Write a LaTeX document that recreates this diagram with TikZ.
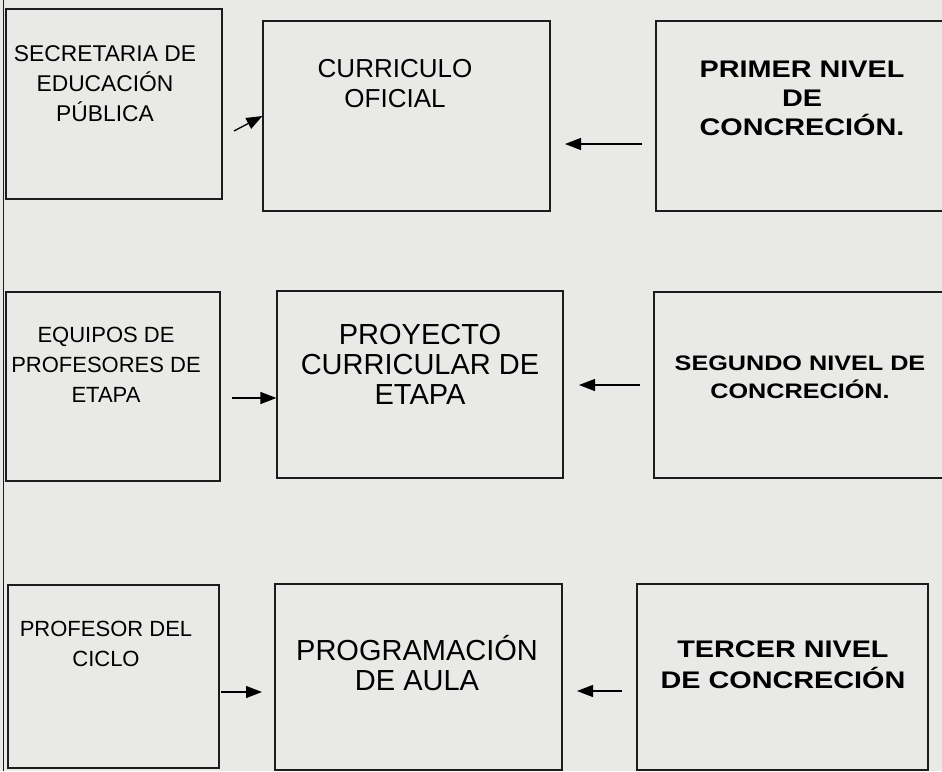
\documentclass[tikz,border=0pt]{standalone}
\usepackage{fontspec}
\setmainfont{Liberation Sans}
\newfontfamily\wideb{Liberation Sans Bold}[FakeStretch=1.2]
\usetikzlibrary{arrows.meta}
\definecolor{bg}{RGB}{233,234,231}
\definecolor{ink}{RGB}{28,28,28}
\begin{document}
\begin{tikzpicture}[x=1pt,y=-1pt,
  box/.style={draw=ink, line width=1.2pt, inner sep=0pt},
  lefttxt/.style={align=center, inner sep=0pt, font=\fontsize{#1}{30}\selectfont},
  midtxt/.style={align=center, inner sep=0pt, font=\fontsize{#1}{30}\selectfont},
  righttxt/.style 2 args={align=center, inner sep=0pt, font=\wideb\fontsize{#1}{#2}\selectfont},
  arr/.style={draw=black, line width=1.3pt, -{Triangle[length=16pt,width=12pt]}}]
\useasboundingbox (0,0) rectangle (942,771);
\fill[bg] (0,0) rectangle (942,771);
\clip (0,0) rectangle (942,771);
\draw[ink, line width=1.2pt] (3.5,0) -- (3.5,771);
% boxes
\node[box, minimum width=216pt, minimum height=190pt] (l1) at (114,104) {};
\node[box, minimum width=287pt, minimum height=190pt] (m1) at (406.5,116) {};
\node[box, minimum width=304pt, minimum height=190pt] (r1) at (808,116) {};
\node[box, minimum width=214pt, minimum height=189pt] (l2) at (113,386.5) {};
\node[box, minimum width=286pt, minimum height=187pt] (m2) at (420,384.5) {};
\node[box, minimum width=306pt, minimum height=186pt] (r2) at (807,385) {};
\node[box, minimum width=211pt, minimum height=183pt] (l3) at (113.5,676.5) {};
\node[box, minimum width=287pt, minimum height=186pt] (m3) at (418.5,677) {};
\node[box, minimum width=291pt, minimum height=186pt] (r3) at (782.5,677) {};
% texts
\node[lefttxt=22.8] (l1t) at (105,85.1) {\strut SECRETARIA DE\\EDUCACIÓN\\PÚBLICA\strut};
\node[lefttxt=22] (l2t) at (106,366.9) {\strut EQUIPOS DE\\PROFESORES DE\\ETAPA\strut};
\node[lefttxt=22] (l3t) at (106,645.9) {\strut PROFESOR DEL\\CICLO\strut};
\node[midtxt=26] (m1t) at (395,86.3) {\strut CURRICULO\\OFICIAL\strut};
\node[midtxt=29] (m2t) at (420,368.4) {\strut PROYECTO\\CURRICULAR DE\\ETAPA\strut};
\node[midtxt=29] (m3t) at (417,667.4) {\strut PROGRAMACIÓN\\DE AULA\strut};
\node[righttxt={24}{29}] (r1t) at (802,100.3) {\strut PRIMER NIVEL\\DE\\CONCRECIÓN.\strut};
\node[righttxt={21}{26}] (r2t) at (800,379.3) {\strut SEGUNDO NIVEL DE\\CONCRECIÓN.\strut};
\node[righttxt={24}{31}] (r3t) at (783,666.9) {\strut TERCER NIVEL\\DE CONCRECIÓN\strut};
% arrows
\coordinate (s1) at (234,131);
\coordinate (s2) at (642,144);
\coordinate (e2) at (565,144);
\coordinate (s3) at (232,398);
\coordinate (s4) at (640,385);
\coordinate (e4) at (579,385);
\coordinate (s5) at (221,692);
\coordinate (e5) at (262,692);
\coordinate (s6) at (622,691);
\coordinate (e6) at (577,691);
\draw[arr] (s1) -- (m1.west);
\draw[arr] (s2) -- (e2);
\draw[arr] (s3) -- (s3 -| m2.west);
\draw[arr] (s4) -- (e4);
\draw[arr] (s5) -- (e5);
\draw[arr] (s6) -- (e6);
\end{tikzpicture}
\end{document}
